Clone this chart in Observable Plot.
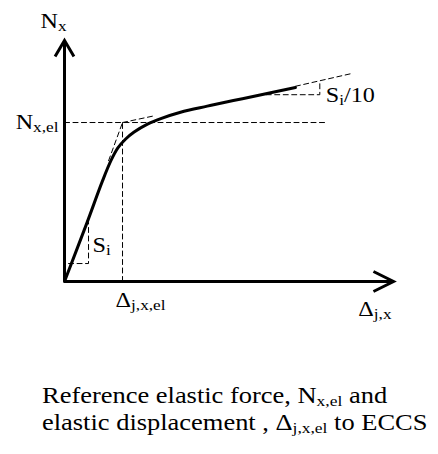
<!DOCTYPE html>
<html>
<head>
<meta charset="utf-8">
<script src="https://cdn.jsdelivr.net/npm/d3@7"></script>
<script src="https://cdn.jsdelivr.net/npm/@observablehq/plot@0.6"></script>
<style>
  html, body { margin: 0; padding: 0; background: #fff; }
  #wrap { position: relative; width: 438px; height: 454px; overflow: hidden; }
  #chart svg { display: block; }
  #caption {
    position: absolute; left: 42px; top: 382px;
    font-family: "Liberation Serif", "Times New Roman", serif;
    font-size: 23px; line-height: 27px; color: #000;
    white-space: nowrap;
    transform: scaleX(1.15); transform-origin: 0 0;
  }
  #caption sub { font-size: 0.66em; vertical-align: -0.2em; line-height: 0; }
</style>
</head>
<body>
<div id="wrap">
  <div id="chart"></div>
  <div id="caption">Reference elastic force, N<sub>x,el</sub> and<br>elastic displacement , Δ<sub>j,x,el</sub> to ECCS</div>
</div>
<script>
// Joint force–displacement curve, Δ in units of Δj,x,el and N in units of Nx,el
const delta = [0, 0.39, 0.65, 0.80, 0.92, 1.05, 1.20, 1.43, 1.66, 2.00, 2.46, 2.91, 3.33, 3.98];
const force = [0, 0.372, 0.628, 0.76, 0.84, 0.895, 0.94, 0.99, 1.025, 1.065, 1.103, 1.138, 1.170, 1.220];

// Reference elastic point (ECCS)
const deltaEl = 1;
const forceEl = 1;

// Axis extents and end of the Nx,el reference line
const deltaMax = 5.67;
const forceMax = 1.516;
const refLineEnd = 4.53;

// Initial stiffness Si tangent and its slope triangle
const siTangentDelta = [0.76, 1];
const siTangentForce = [0.76, 1];
const siTriDelta = [0.07, 0.414, 0.414];
const siTriForce = [0.113, 0.113, 0.371];

// Post-elastic Si/10 tangents and slope triangle
const postTangentDelta = [1, 1.57];
const postTangentForce = [1, 1.044];
const endTangentDelta = [3.98, 4.97];
const endTangentForce = [1.228, 1.31];
const si10TriDelta = [3.33, 4.40, 4.40];
const si10TriForce = [1.175, 1.175, 1.262];

// Labels (_{...} marks a subscript)
const labelNx = "N_{x}";
const labelNxel = "N_{x,el}";
const labelDel = "Δ_{j,x,el}";
const labelD = "Δ_{j,x}";
const labelSi = "S_{i}";
const labelSi10 = "S_{i}/10";

const pts = (xs, ys) => xs.map((x, i) => ({x, y: ys[i]}));
const dash = {x: "x", y: "y", stroke: "black", strokeWidth: 1, strokeDasharray: "5,3.5"};
const lbl = {fontSize: 21, fill: "black", lineAnchor: "bottom"};

const chart = Plot.plot({
  width: 438,
  height: 340,
  marginLeft: 64,
  marginRight: 45,
  marginTop: 40,
  marginBottom: 59,
  x: {domain: [0, deltaMax], axis: null},
  y: {domain: [0, forceMax], axis: null},
  style: {fontFamily: "'Liberation Serif', 'Times New Roman', serif", background: "white", color: "black", overflow: "visible"},
  marks: [
    // reference lines
    Plot.line(pts([0, refLineEnd], [forceEl, forceEl]), dash),
    Plot.line(pts([deltaEl, deltaEl], [0, forceEl]), dash),
    // tangents
    Plot.line(pts(siTangentDelta, siTangentForce), dash),
    Plot.line(pts(postTangentDelta, postTangentForce), dash),
    Plot.line(pts(endTangentDelta, endTangentForce), dash),
    // slope triangles
    Plot.line(pts(siTriDelta, siTriForce), dash),
    Plot.line(pts(si10TriDelta, si10TriForce), dash),
    // axes
    Plot.arrow([{}], {x1: 0, y1: 0, x2: 0, y2: forceMax, stroke: "black", strokeWidth: 3,
      headLength: 9.3, headAngle: 61, strokeLinecap: "butt", strokeLinejoin: "miter", strokeMiterlimit: 10}),
    Plot.arrow([{}], {x1: 0, y1: 0, x2: deltaMax, y2: 0, stroke: "black", strokeWidth: 3,
      headLength: 11.2, headAngle: 53, strokeLinecap: "butt", strokeLinejoin: "miter", strokeMiterlimit: 10}),
    // force–displacement curve
    Plot.line(pts(delta, force), {x: "x", y: "y", stroke: "black", strokeWidth: 3, curve: "catmull-rom"}),
    // labels
    Plot.text([{x: 0, y: forceMax, t: labelNx}], {x: "x", y: "y", text: "t", ...lbl, textAnchor: "start", dx: -24, dy: -13}),
    Plot.text([{x: 0, y: forceEl, t: labelNxel}], {x: "x", y: "y", text: "t", ...lbl, textAnchor: "end", dx: -6, dy: 6}),
    Plot.text([{x: deltaEl, y: 0, t: labelDel}], {x: "x", y: "y", text: "t", ...lbl, textAnchor: "start", dx: -7, dy: 25}),
    Plot.text([{x: deltaMax, y: 0, t: labelD}], {x: "x", y: "y", text: "t", ...lbl, textAnchor: "end", dx: -2, dy: 34}),
    Plot.text([{x: siTriDelta[1], y: siTriForce[0], t: labelSi}], {x: "x", y: "y", text: "t", ...lbl, textAnchor: "start", dx: 4, dy: -12}),
    Plot.text([{x: si10TriDelta[1], y: si10TriForce[0], t: labelSi10}], {x: "x", y: "y", text: "t", ...lbl, textAnchor: "start", dx: 6, dy: 7})
  ]
});

// Turn "_{...}" into subscript tspans and widen the glyphs like the original typesetting
const SVGNS = "http://www.w3.org/2000/svg";
const subSize = 15, subShift = 3;
chart.querySelectorAll("text").forEach(el => {
  const s = el.textContent;
  if (s.includes("_{")) {
    const parts = s.split(/(_\{[^}]*\})/).filter(Boolean);
    el.textContent = "";
    let shifted = false;
    for (const p of parts) {
      const t = document.createElementNS(SVGNS, "tspan");
      if (p.startsWith("_{")) {
        t.textContent = p.slice(2, -1);
        t.setAttribute("font-size", subSize);
        t.setAttribute("dy", subShift);
        shifted = true;
      } else {
        t.textContent = p;
        if (shifted) { t.setAttribute("dy", -subShift); shifted = false; }
      }
      el.appendChild(t);
    }
  }
  const tr = el.getAttribute("transform") || "";
  el.setAttribute("transform", (tr + " scale(1.15,1)").trim());
});

document.getElementById("chart").appendChild(chart);
</script>
</body>
</html>
